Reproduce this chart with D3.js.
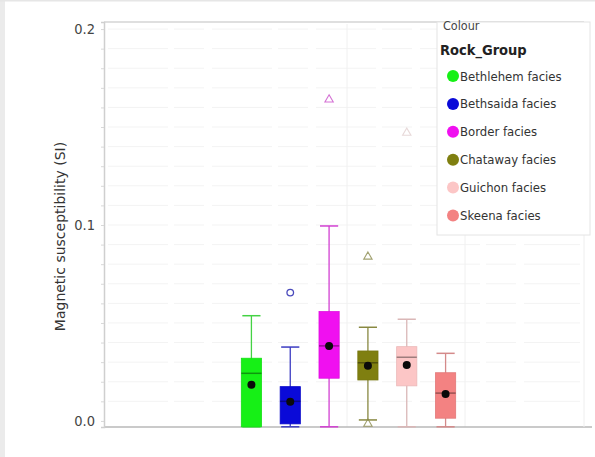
<!DOCTYPE html>
<html>
<head>
<meta charset="utf-8">
<script src="https://cdn.jsdelivr.net/npm/d3@7"></script>
<style>
  html, body { margin: 0; padding: 0; background: #ffffff; }
  svg { display: block; }
</style>
</head>
<body>
<svg id="chart" width="595" height="457"></svg>
<script>
// Magnetic susceptibility by rock group (box plots)
const groups   = ["Bethlehem facies", "Bethsaida facies", "Border facies", "Chataway facies", "Guichon facies", "Skeena facies"];
const colours  = ["#16f016", "#0a0ad8", "#f010f0", "#7f7f10", "#fcc6c6", "#f38282"];
const whiskerLow  = [-0.003, -0.003, -0.003, 0.0005, -0.003, -0.003];
const q1          = [-0.003, -0.0015, 0.0218, 0.0209, 0.0179, 0.0014];
const medians     = [0.0243, 0.0100, 0.0383, 0.0297, 0.0325, 0.0142];
const q3          = [0.0320, 0.0175, 0.0558, 0.0357, 0.0379, 0.0246];
const whiskerHigh = [0.0537, 0.0377, 0.0995, 0.0478, 0.0519, 0.0345];
const means       = [0.0185, 0.0098, 0.0383, 0.0281, 0.0286, 0.0138];
// outliers: [group index, value, marker]
const outlierGroup = [1, 2, 3, 3, 4];
const outlierValue = [0.0655, 0.1640, 0.0838, -0.0015, 0.1470];
const outlierShape = ["circle", "triangle", "triangle", "triangle", "triangle"];
const yTicks = [0.0, 0.1, 0.2];

const svg = d3.select("#chart");
const condensed = "'DejaVu Sans Condensed', 'DejaVu Sans', sans-serif";

// page frame
svg.append("rect").attr("x", 0).attr("y", 0).attr("width", 595).attr("height", 457).attr("fill", "#ffffff");
svg.append("rect").attr("x", 0).attr("y", 0).attr("width", 5).attr("height", 457).attr("fill", "#ebebeb");
svg.append("rect").attr("x", 0).attr("y", 0).attr("width", 595).attr("height", 1.5).attr("fill", "#e6e6e6");

const plot = { left: 104, right: 584, top: 22, bottom: 427 };

const y = d3.scaleLinear().domain([-0.0031, 0.2036]).range([plot.bottom, plot.top]);
const x = d3.scaleBand().domain(groups).range([232, 465]).paddingInner(0.48).paddingOuter(0.24);

// faint grid
const g = svg.append("g");
g.selectAll("line.hgrid")
  .data(d3.range(0.01, 0.2001, 0.01))
  .join("line")
  .attr("class", "hgrid")
  .attr("x1", plot.left + 4).attr("x2", plot.right - 4)
  .attr("y1", d => y(d)).attr("y2", d => y(d))
  .attr("stroke", "#f3f3f3").attr("stroke-width", 1)
  .attr("stroke-dasharray", "60,6,30,8");
g.selectAll("line.vgrid")
  .data([347, 465])
  .join("line")
  .attr("class", "vgrid")
  .attr("x1", d => d).attr("x2", d => d)
  .attr("y1", plot.top + 2).attr("y2", plot.bottom)
  .attr("stroke", "#f0f0f0").attr("stroke-width", 1);

// plot borders
svg.append("line").attr("x1", plot.left).attr("x2", plot.right).attr("y1", plot.top).attr("y2", plot.top)
  .attr("stroke", "#d4d4d4").attr("stroke-width", 1.5);
svg.append("line").attr("x1", plot.left).attr("x2", 592).attr("y1", plot.bottom).attr("y2", plot.bottom)
  .attr("stroke", "#b8b8b8").attr("stroke-width", 1.5);
svg.append("line").attr("x1", plot.right).attr("x2", plot.right).attr("y1", plot.top).attr("y2", plot.bottom)
  .attr("stroke", "#eeeeee").attr("stroke-width", 1);

// y axis
const yAxis = d3.axisLeft(y)
  .tickValues(d3.range(0, 0.2001, 0.01))
  .tickSize(3)
  .tickFormat(d => (yTicks.some(t => Math.abs(t - d) < 1e-9) ? d3.format(".1f")(d) : ""));
const ya = svg.append("g").attr("transform", `translate(${plot.left},0)`).call(yAxis);
ya.select(".domain").attr("stroke", "#cfcfcf").attr("stroke-width", 1.5);
ya.selectAll(".tick line").attr("stroke", "#d8d8d8");
ya.selectAll(".tick text")
  .attr("x", -9)
  .attr("font-family", condensed)
  .attr("font-size", 14.5)
  .attr("fill", "#444444");

svg.append("text")
  .attr("transform", `translate(65,${(plot.top + plot.bottom) / 2 + 12}) rotate(-90)`)
  .attr("text-anchor", "middle")
  .attr("font-family", "'DejaVu Sans', sans-serif")
  .attr("font-size", 14)
  .attr("fill", "#333333")
  .text("Magnetic susceptibility (SI)");

// box plots
const bw = x.bandwidth();
const boxes = svg.append("g");
groups.forEach((grp, i) => {
  const cx = x(grp) + bw / 2;
  const col = colours[i];
  const wcol = d3.interpolateRgb(col, "#9a9a9a")(0.35);
  const b = boxes.append("g");
  // whisker stem
  b.append("line").attr("x1", cx).attr("x2", cx)
    .attr("y1", y(whiskerHigh[i])).attr("y2", y(whiskerLow[i]))
    .attr("stroke", wcol).attr("stroke-width", 1.3);
  // caps
  [whiskerHigh[i], whiskerLow[i]].forEach(v => {
    b.append("line").attr("x1", cx - bw * 0.45).attr("x2", cx + bw * 0.45)
      .attr("y1", y(v)).attr("y2", y(v))
      .attr("stroke", wcol).attr("stroke-width", 1.5);
  });
  // box
  b.append("rect")
    .attr("x", x(grp)).attr("width", bw)
    .attr("y", y(q3[i])).attr("height", y(q1[i]) - y(q3[i]))
    .attr("fill", col)
    .attr("stroke", d3.color(col).darker(0.2)).attr("stroke-width", 0.8);
  // median
  b.append("line").attr("x1", x(grp)).attr("x2", x(grp) + bw)
    .attr("y1", y(medians[i])).attr("y2", y(medians[i]))
    .attr("stroke", d3.color(col).darker(1.3)).attr("stroke-width", 1.5);
  // mean
  b.append("circle").attr("cx", cx).attr("cy", y(means[i])).attr("r", 4)
    .attr("fill", "#0a0a0a");
});

// outliers
outlierGroup.forEach((gi, k) => {
  const cx = x(groups[gi]) + bw / 2;
  const cy = y(outlierValue[k]);
  const col = d3.interpolateRgb(colours[gi], "#9a9a9a")(0.45);
  if (outlierShape[k] === "circle") {
    svg.append("circle").attr("cx", cx).attr("cy", cy).attr("r", 3.3)
      .attr("fill", "none").attr("stroke", col).attr("stroke-width", 1.3);
  } else {
    svg.append("path")
      .attr("d", d3.symbol(d3.symbolTriangle, 30)())
      .attr("transform", `translate(${cx},${cy})`)
      .attr("fill", "none").attr("stroke", col).attr("stroke-width", 1.1)
      .attr("opacity", gi === 4 ? 0.5 : 0.8);
  }
});

// legend
const lg = svg.append("g").attr("transform", "translate(437,22)");
lg.append("rect").attr("x", 0).attr("y", 0).attr("width", 153).attr("height", 213)
  .attr("fill", "#ffffff").attr("stroke", "#e4e4e4").attr("stroke-width", 1);
lg.append("text").attr("x", 6).attr("y", 8)
  .attr("font-family", condensed)
  .attr("font-size", 12.5).attr("fill", "#444")
  .text("Colour");
lg.append("text").attr("x", 3).attr("y", 33)
  .attr("font-family", condensed)
  .attr("font-size", 14.5).attr("font-weight", "bold").attr("fill", "#222")
  .text("Rock_Group");
const items = lg.selectAll("g.item").data(groups).join("g")
  .attr("class", "item")
  .attr("transform", (d, i) => `translate(16,${54 + i * 27.9})`);
items.append("circle").attr("r", 6).attr("fill", (d, i) => colours[i]);
items.append("text").attr("x", 7).attr("y", 4.5)
  .attr("font-family", condensed)
  .attr("font-size", 13).attr("fill", "#333")
  .text(d => d);
</script>
</body>
</html>
